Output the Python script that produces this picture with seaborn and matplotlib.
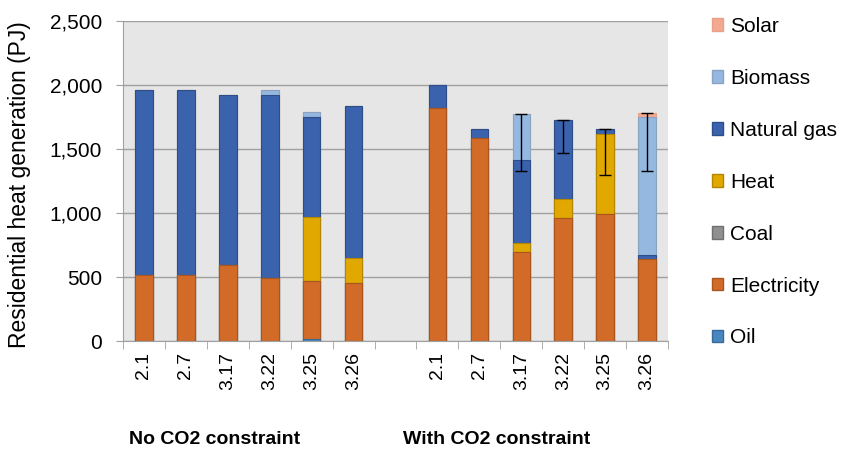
import matplotlib.pyplot as plt
import pandas as pd
import seaborn as sns
import numpy as np
from matplotlib.patches import Patch
from matplotlib.ticker import FuncFormatter

# scenario labels, two groups with an empty slot between them
scenarios = ["2.1", "2.7", "3.17", "3.22", "3.25", "3.26"]
groups = ["No CO2 constraint", "With CO2 constraint"]

# PJ values, bottom layer first
oil = [0, 0, 0, 0, 12, 0] + [0, 0, 0, 0, 0, 0]
electricity = [512, 512, 590, 490, 459, 452] + [1818, 1588, 693, 958, 992, 643]
coal = [0, 0, 0, 0, 0, 0] + [0, 0, 0, 0, 0, 0]
heat = [0, 0, 0, 0, 500, 195] + [0, 0, 73, 151, 628, 0]
natural_gas = [1449, 1449, 1329, 1429, 781, 1190] + [184, 66, 651, 615, 34, 31]
biomass = [0, 0, 0, 39, 34, 0] + [0, 0, 359, 0, 0, 1079]
solar = [0, 0, 0, 0, 0, 0] + [0, 0, 0, 0, 0, 28]

# error bars (minus side only) on the CO2-constrained runs
err_scen = ["3.17", "3.22", "3.25", "3.26"]
err_low = [445, 258, 360, 450]

layers = ["Oil", "Electricity", "Coal", "Heat", "Natural gas", "Biomass", "Solar"]
values = [oil, electricity, coal, heat, natural_gas, biomass, solar]
colors = {"Oil": "#4A86C0", "Electricity": "#D36B28", "Coal": "#8F8F8F",
          "Heat": "#E0A800", "Natural gas": "#3A62AD", "Biomass": "#95B8E0",
          "Solar": "#F2A98F"}
edges = {"Oil": "#3A6A98", "Electricity": "#A9551F", "Coal": "#707070",
         "Heat": "#B38600", "Natural gas": "#2E4E8A", "Biomass": "#8AA3C0",
         "Solar": "#E8A08A"}

keys = ["no|" + s for s in scenarios] + ["with|" + s for s in scenarios]
order = keys[:6] + ["gap"] + keys[6:]

df = pd.DataFrame({"slot": keys})
for name, v in zip(layers, values):
    df[name] = v
cum = df[layers].cumsum(axis=1)
for name in layers:
    df["cum_" + name] = cum[name]

FONT = "Liberation Sans"

fig = plt.figure(figsize=(8.58, 4.53), dpi=100)
ax = fig.add_axes([0.1434, 0.2472, 0.6352, 0.7064])
ax.set_facecolor("#E6E6E6")

# stacked bars: draw cumulative totals from the top layer down
for name in reversed(layers):
    sns.barplot(data=df, x="slot", y="cum_" + name, order=order,
                color=colors[name], edgecolor=edges[name], linewidth=0.8,
                width=0.42, saturation=1, errorbar=None, ax=ax)

# error bars hang down from the bar tops
tops = df.set_index("slot")[layers].sum(axis=1)
for s, lo in zip(err_scen, err_low):
    k = "with|" + s
    ax.errorbar(order.index(k), tops[k], yerr=[[lo], [0]], fmt="none",
                ecolor="black", elinewidth=1, capsize=4, capthick=1)

ax.set_ylim(0, 2500)
ax.set_xlim(-0.5, 12.5)
ax.set_yticks(range(0, 2501, 500))
ax.yaxis.set_major_formatter(FuncFormatter(lambda v, p: f"{int(v):,}"))
ax.grid(axis="y", color="#A0A0A0", linewidth=1)
ax.set_axisbelow(True)
for sp in ["top", "right"]:
    ax.spines[sp].set_visible(False)
for sp in ["left", "bottom"]:
    ax.spines[sp].set_color("#A0A0A0")

ax.set_xticks(range(13))
ax.set_xticklabels([k.split("|")[1] if k != "gap" else "" for k in order],
                   rotation=90, fontsize=14, family=FONT)
ax.set_xticks(np.arange(-0.5, 13, 1), minor=True)
ax.tick_params(axis="x", which="major", length=0, pad=8)
ax.tick_params(axis="x", which="minor", length=6, color="#A0A0A0")
ax.tick_params(axis="y", length=5, color="#A0A0A0", labelsize=15, pad=10)
for t in ax.get_yticklabels():
    t.set_family(FONT)
ax.set_xlabel("")
ax.set_ylabel("Residential heat generation (PJ)", fontsize=16.5, family=FONT)
ax.yaxis.set_label_coords(-0.169, 0.49)

fig.text(0.2506, 0.03, groups[0], ha="center", va="center", fontsize=14,
         fontweight="bold", family=FONT)
fig.text(0.579, 0.03, groups[1], ha="center", va="center", fontsize=14,
         fontweight="bold", family=FONT)

handles = [Patch(facecolor=colors[n], edgecolor=edges[n], label=n)
           for n in reversed(layers)]
fig.legend(handles=handles, loc="upper left", bbox_to_anchor=(0.808, 1.004),
           frameon=False, labelspacing=1.58, handlelength=0.55,
           handleheight=0.55, handletextpad=0.33,
           prop={"family": FONT, "size": 15})

fig.savefig("out.png", dpi=100)
